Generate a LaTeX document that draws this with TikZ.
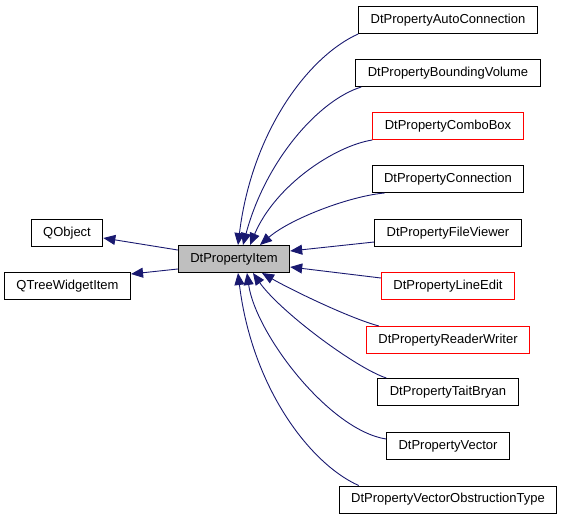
\documentclass[tikz,border=0pt]{standalone}
\usepackage{fontspec}
\setmainfont{Liberation Sans}
\usetikzlibrary{arrows.meta}
\definecolor{edgeblue}{HTML}{191970}
\tikzset{
  cls/.style={draw=black,line width=1pt,fill=white,minimum height=27pt,inner xsep=12pt,inner ysep=0pt,font=\fontsize{13}{15}\selectfont},
  redcls/.style={cls,draw=red},
  inherit/.style={draw=edgeblue,line width=0.9pt,-{Triangle[length=12pt,width=10pt]}}
}
\begin{document}
\begin{tikzpicture}[x=1pt,y=1pt]
\useasboundingbox (0,0) rectangle (563,-520);
\node[cls] (qobj) at (67,-233) {QObject};
\node[cls] (qtree) at (67.5,-286) {QTreeWidgetItem};
\node[cls,fill=black!25] (item) at (234,-259) {DtPropertyItem};
\foreach\nm/\st/\y/\lbl in {auto/cls/20/AutoConnection,bound/cls/73/BoundingVolume,combo/redcls/126/ComboBox,conn/cls/179/Connection,file/cls/233/FileViewer,line/redcls/286/LineEdit,reader/redcls/340/ReaderWriter,tait/cls/392/TaitBryan,vector/cls/446/Vector,obstr/cls/499.5/VectorObstructionType} {
  \node[\st] (\nm) at (448,-\y) {DtProperty\lbl};
}
\draw[inherit] ([yshift=9]item.west) -- ([yshift=-5]qobj.east);
\draw[inherit] ([yshift=-10]item.west) -- ([yshift=12]qtree.east);
\draw[inherit] (auto.south west) .. controls +(204:53) and +(83:116) .. ([xshift=4]item.north);
\draw[inherit] ([xshift=6]bound.south west) .. controls +(197:44) and +(75:88) .. ([xshift=9]item.north);
\draw[inherit] (combo.south west) .. controls +(189:38) and +(67:65) .. ([xshift=16]item.north);
\draw[inherit] ([xshift=13]conn.south west) .. controls +(185:35) and +(41:40) .. ([xshift=26]item.north);
\draw[inherit] ([yshift=-9]file.west) -- ([yshift=8]item.east);
\draw[inherit] ([yshift=8]line.west) -- ([yshift=-8]item.east);
\draw[inherit] ([xshift=13]reader.north west) .. controls +(165:31) and +(-30:32) .. ([xshift=28]item.south);
\draw[inherit] ([xshift=9]tait.north west) .. controls +(162:32) and +(-55:47) .. ([xshift=19]item.south);
\draw[inherit] ([yshift=7]vector.west) .. controls +(171:58) and +(-82:61) .. ([xshift=13]item.south);
\draw[inherit] ([xshift=20]obstr.north west) .. controls +(156:53) and +(-83:116) .. ([xshift=4]item.south);
\end{tikzpicture}
\end{document}
